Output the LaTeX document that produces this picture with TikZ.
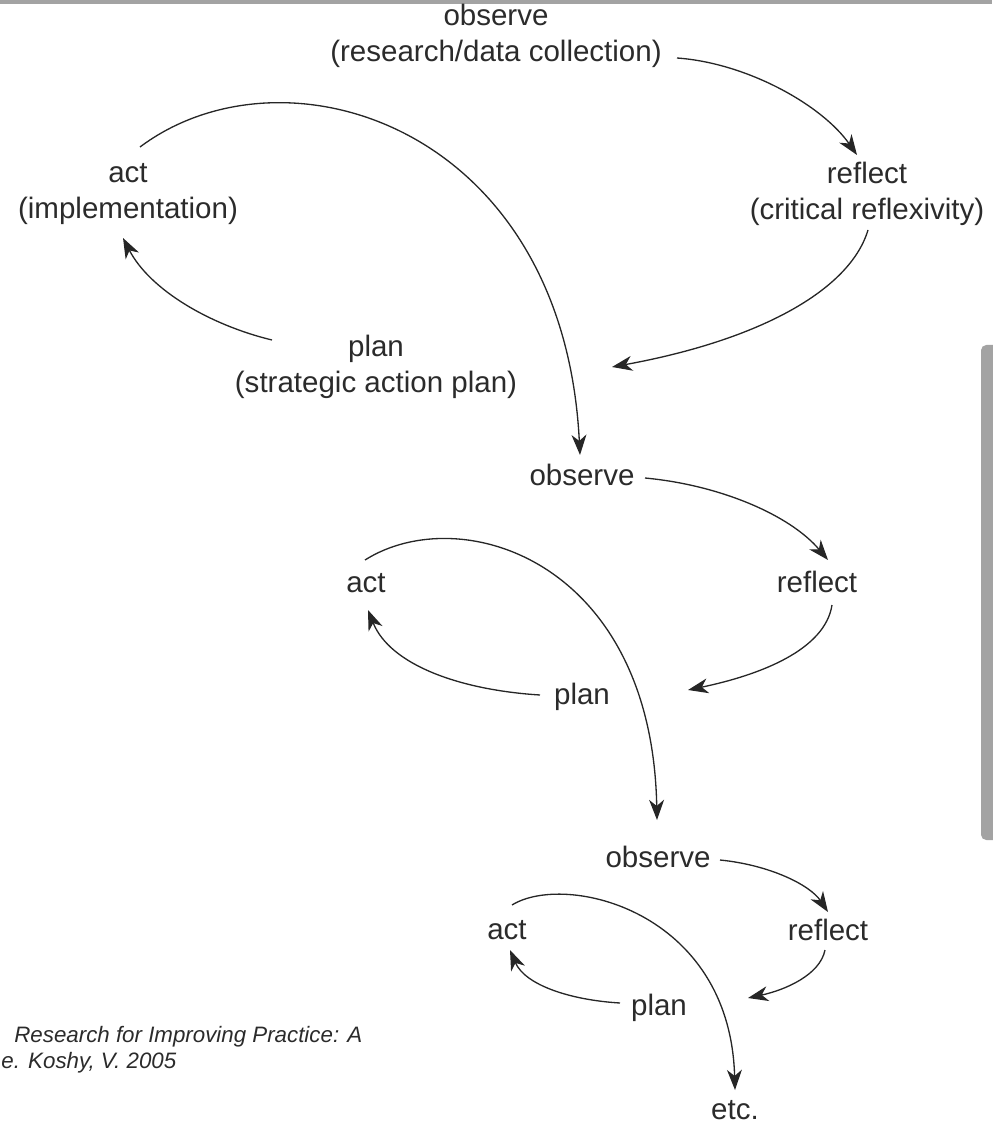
\documentclass[tikz,border=0pt]{standalone}
\usepackage{fontspec}
\setmainfont{Liberation Sans}
\usepackage{tikz}
\usetikzlibrary{arrows.meta}
\usetikzlibrary{calc}
\definecolor{ink}{HTML}{2B2B2B}
\definecolor{barcol}{HTML}{A3A3A3}

\begin{document}
\begin{tikzpicture}[x=0.02cm,y=-0.02cm,
    lbl/.style={text=ink,align=center,inner sep=0pt,font=\fontsize{16.8}{20.5}\selectfont},
    src/.style={text=ink,anchor=west,inner sep=0pt,font=\fontsize{12.7}{15}\selectfont\itshape},
    flow/.style={-{Stealth[length=11.5pt,width=8.5pt,inset=3.5pt]},line width=0.75pt,draw=black!85}]
      \useasboundingbox (0,0) rectangle (992,1131);
      \fill[barcol] (0,0) rectangle (992,4);
      \fill[barcol,rounded corners=3pt] (981,345) rectangle (1000,840);

      \node[lbl] (obsA) at (496,36) {observe\\(research/data collection)};
      \node[lbl] (actA) at (128,194) {act\\(implementation)};
      \node[lbl] (refA) at (867,194) {reflect\\(critical reflexivity)};
      \node[lbl] (plnA) at (376,367) {plan\\(strategic action plan)};
      \node[lbl] (obsB) at (582,475) {observe};
      \node[lbl] (actB) at (366,583) {act};
      \node[lbl] (refB) at (817,582) {reflect};
      \node[lbl] (plnB) at (582,697) {plan};
      \node[lbl] (obsC) at (658,857) {observe};
      \node[lbl] (actC) at (507,930) {act};
      \node[lbl] (refC) at (828,930) {reflect};
      \node[lbl] (plnC) at (659,1008) {plan};
      \node[lbl] (etc) at (735,1110) {etc.};
      \node[src] (srcA) at (14,1037) {Research for Improving Practice: A};
      \node[src] (srcB) at (1,1063) {e. Koshy, V. 2005};
      \coordinate (jnA) at (612,367);
      \coordinate (jnB) at (688,690);
      \coordinate (jnC) at (748,998);

      \draw[flow] ($(obsA)+(181,22)$) .. controls +(70,5) and +(-35,-50) .. ($(refA)+(-10,-39)$);
      \draw[flow] ($(refA)+(1,36)$) .. controls +(-18,60) and +(148,-27) .. (jnA);
      \draw[flow] ($(actA)+(12,-47)$) .. controls +(144,-108) and +(-16.5,-330) .. ($(obsB)+(-2,-20)$);
      \draw[flow] ($(plnA)+(-104,-27)$) .. controls +(-62,-15) and +(27,52) .. ($(actA)+(-5,44)$);

      \draw[flow] ($(obsB)+(63,3)$) .. controls +(75,7) and +(-38,-45) .. ($(refB)+(11,-22)$);
      \draw[flow] ($(refB)+(15,23)$) .. controls +(-7,45) and +(72,-15) .. (jnB);
      \draw[flow] ($(actB)+(-1,-23)$) .. controls +(95,-60) and +(-5,-260) .. ($(obsC)+(-1,-37)$);
      \draw[flow] ($(plnB)+(-42,-2)$) .. controls +(-80,-5) and +(22,55) .. ($(actB)+(2,27)$);

      \draw[flow] ($(obsC)+(62,3)$) .. controls +(50,5) and +(-18,-27) .. ($(refC)+(0,-18)$);
      \draw[flow] ($(refC)+(-3,20)$) .. controls +(-5,25) and +(37,-8) .. (jnC);
      \draw[flow] ($(actC)+(5,-25)$) .. controls +(53,-33) and +(-5,-180) .. ($(etc)+(0,-20)$);
      \draw[flow] ($(plnC)+(-39,-5)$) .. controls +(-50,-3) and +(15,35) .. ($(actC)+(3,20)$);
\end{tikzpicture}
\end{document}
